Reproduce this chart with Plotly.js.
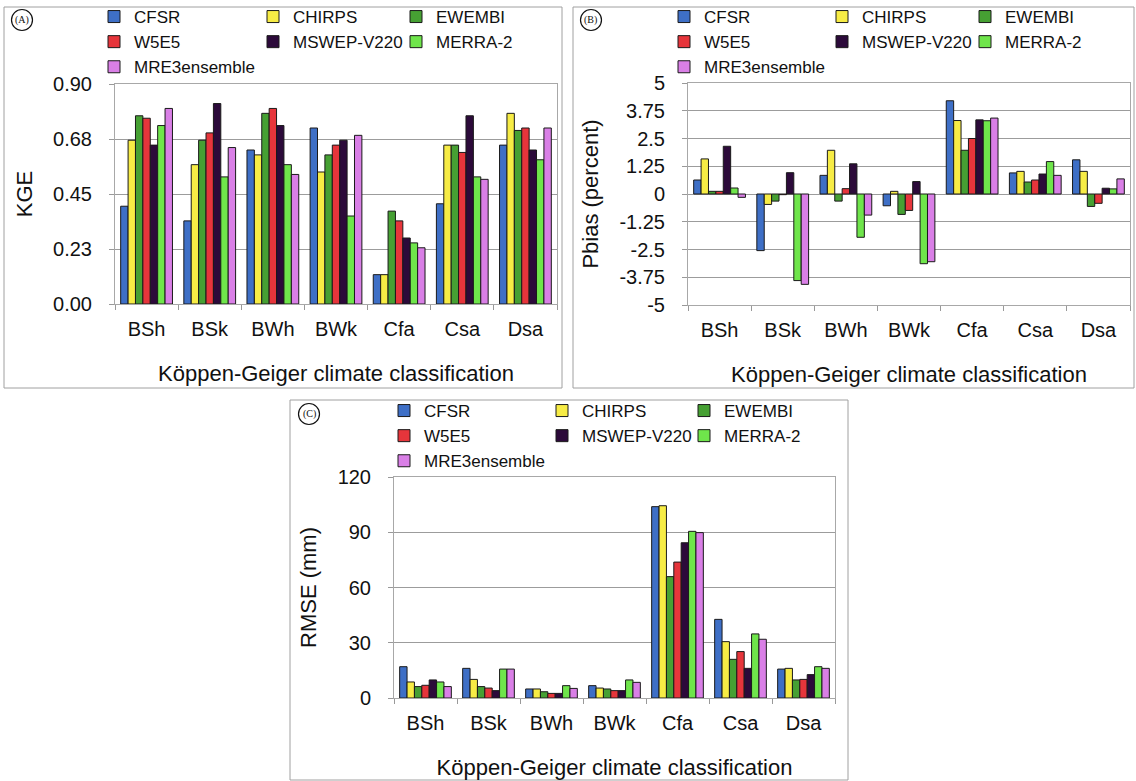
<!DOCTYPE html>
<html>
<head>
<meta charset="utf-8">
<script src="https://cdn.plot.ly/plotly-3.0.1.min.js"></script>
<style>
html,body{margin:0;padding:0;background:#fff;}
#chart{width:1136px;height:781px;}
</style>
</head>
<body>
<div id="chart"></div>
<script>
// ---------- DATA ----------
const categories = ['BSh', 'BSk', 'BWh', 'BWk', 'Cfa', 'Csa', 'Dsa'];
const products = ['CFSR', 'CHIRPS', 'EWEMBI', 'W5E5', 'MSWEP-V220', 'MERRA-2', 'MRE3ensemble'];

// rows follow `products`, columns follow `categories`
const kgeValues = [
  [0.40, 0.34, 0.63, 0.72, 0.12, 0.41, 0.65],
  [0.67, 0.57, 0.61, 0.54, 0.12, 0.65, 0.78],
  [0.77, 0.67, 0.78, 0.61, 0.38, 0.65, 0.71],
  [0.76, 0.70, 0.80, 0.65, 0.34, 0.62, 0.72],
  [0.65, 0.82, 0.73, 0.67, 0.27, 0.77, 0.63],
  [0.73, 0.52, 0.57, 0.36, 0.25, 0.52, 0.59],
  [0.80, 0.64, 0.53, 0.69, 0.23, 0.51, 0.72]
];
const pbiasValues = [
  [0.63, -2.55, 0.84, -0.53, 4.20, 0.95, 1.54],
  [1.58, -0.47, 1.97, 0.12, 3.31, 1.02, 1.02],
  [0.12, -0.32, -0.32, -0.92, 1.97, 0.54, -0.56],
  [0.12, -0.03, 0.24, -0.74, 2.50, 0.63, -0.42],
  [2.15, 0.96, 1.36, 0.56, 3.34, 0.90, 0.26],
  [0.27, -3.90, -1.95, -3.14, 3.30, 1.46, 0.23],
  [-0.15, -4.07, -0.95, -3.05, 3.42, 0.84, 0.68]
];
const rmseValues = [
  [17.0, 16.1, 4.9, 6.7, 103.9, 42.7, 15.7],
  [8.7, 10.1, 4.9, 5.4, 104.4, 30.6, 16.1],
  [6.2, 6.2, 3.4, 4.9, 65.9, 21.0, 9.8],
  [6.9, 5.4, 2.5, 4.0, 73.8, 25.2, 10.1],
  [9.8, 4.0, 2.5, 4.0, 84.3, 16.1, 12.7],
  [8.7, 15.7, 6.7, 9.8, 90.5, 34.8, 17.0],
  [6.2, 15.7, 5.2, 8.5, 89.8, 31.9, 16.1]
];

const kgeTickVals = [0, 0.225, 0.45, 0.675, 0.9];
const kgeTickText = ['0.00', '0.23', '0.45', '0.68', '0.90'];
const pbiasTickVals = [5, 3.75, 2.5, 1.25, 0, -1.25, -2.5, -3.75, -5];
const pbiasTickText = ['5', '3.75', '2.5', '1.25', '0', '-1.25', '-2.5', '-3.75', '-5'];
const rmseTickVals = [0, 30, 60, 90, 120];
const rmseTickText = ['0', '30', '60', '90', '120'];

const yTitles = ['KGE', 'Pbias (percent)', 'RMSE (mm)'];
const xTitle = 'Köppen-Geiger climate classification';
const panelLabels = ['(A)', '(B)', '(C)'];

// ---------- STYLE / LAYOUT ----------
const colors = ['#3e6fc6', '#f7ec45', '#46a033', '#e6353b', '#2c0a3a', '#6fe54b', '#d97fe6'];
const W = 1136, H = 781;
const px = x => x / W;
const py = y => 1 - y / H;
const FONT = 'Liberation Sans, Arial, Helvetica, sans-serif';

const panels = [
  {values: kgeValues, tv: kgeTickVals, tt: kgeTickText, range: [0, 0.9],
   box: [4, 7, 562, 388], plot: [115, 84, 557, 304], legX: [94, 253, 396], legTop: -1, circle: [22, 20]},
  {values: pbiasValues, tv: pbiasTickVals, tt: pbiasTickText, range: [-5, 5],
   box: [573, 7, 1134, 388], plot: [688, 83, 1130, 305], legX: [664, 822, 965], legTop: -1, circle: [591, 20]},
  {values: rmseValues, tv: rmseTickVals, tt: rmseTickText, range: [0, 120],
   box: [290, 400, 848, 780], plot: [394, 477, 835, 698], legX: [384, 542, 684], legTop: 393, circle: [309, 414]}
];

const traces = [];
const layout = {
  width: W, height: H,
  margin: {l: 0, r: 0, t: 0, b: 0, autoexpand: false},
  paper_bgcolor: '#ffffff', plot_bgcolor: '#ffffff',
  font: {family: FONT, color: '#111'},
  barmode: 'group', bargap: 0.18, bargroupgap: 0,
  showlegend: true,
  shapes: [], annotations: []
};

panels.forEach((p, pi) => {
  const sfx = pi === 0 ? '' : String(pi + 1);
  const xa = 'x' + sfx, ya = 'y' + sfx;
  products.forEach((name, i) => {
    const legIdx = pi * 3 + (i % 3) + 1;
    traces.push({
      type: 'bar', name: name, x: categories, y: p.values[i],
      xaxis: xa, yaxis: ya,
      legend: legIdx === 1 ? 'legend' : 'legend' + legIdx,
      marker: {color: colors[i], line: {color: '#1a1a1a', width: 1}},
      hoverinfo: 'x+y+name'
    });
  });
  for (let c = 0; c < 3; c++) {
    const legIdx = pi * 3 + c + 1;
    layout[legIdx === 1 ? 'legend' : 'legend' + legIdx] = {
      x: px(p.legX[c]), xanchor: 'left', y: py(p.legTop), yanchor: 'top',
      orientation: 'v', bgcolor: 'rgba(0,0,0,0)', borderwidth: 0,
      font: {family: FONT, size: 17, color: '#111'}, traceorder: 'normal'
    };
  }
  layout['xaxis' + sfx] = {
    domain: [px(p.plot[0]), px(p.plot[2])], anchor: ya,
    type: 'category', categoryorder: 'array', categoryarray: categories,
    tickson: 'boundaries', ticks: 'outside', ticklen: 5, tickcolor: '#999',
    showgrid: false, zeroline: false, showline: true, mirror: true,
    linecolor: '#a8a8a8', linewidth: 1,
    tickfont: {family: FONT, size: 20, color: '#111'}, ticklabelstandoff: 7,
    title: {text: xTitle, font: {family: FONT, size: 22, color: '#111'}, standoff: 26},
    fixedrange: true
  };
  layout['yaxis' + sfx] = {
    domain: [py(p.plot[3]), py(p.plot[1])], anchor: xa,
    range: p.range, tickmode: 'array', tickvals: p.tv, ticktext: p.tt,
    ticks: 'outside', ticklen: 5, tickcolor: '#999',
    showgrid: true, gridcolor: '#9c9c9c', gridwidth: 1.2, zeroline: false,
    showline: true, mirror: true, linecolor: '#a8a8a8', linewidth: 1,
    tickfont: {family: FONT, size: 20, color: '#111'}, ticklabelstandoff: 13,
    title: {text: yTitles[pi], font: {family: FONT, size: 22, color: '#111'}, standoff: 14},
    fixedrange: true
  };
  layout.shapes.push({
    type: 'rect', xref: 'paper', yref: 'paper',
    x0: px(p.box[0]), x1: px(p.box[2]), y0: py(p.box[3]), y1: py(p.box[1]),
    line: {color: '#a0a0a0', width: 1}, fillcolor: 'rgba(0,0,0,0)', layer: 'below'
  });
  const r = 10.5;
  layout.shapes.push({
    type: 'circle', xref: 'paper', yref: 'paper',
    x0: px(p.circle[0] - r), x1: px(p.circle[0] + r),
    y0: py(p.circle[1] + r), y1: py(p.circle[1] - r),
    line: {color: '#111', width: 1.2}
  });
  layout.annotations.push({
    xref: 'paper', yref: 'paper', x: px(p.circle[0]), y: py(p.circle[1]),
    xanchor: 'center', yanchor: 'middle', showarrow: false,
    text: panelLabels[pi], font: {family: 'Liberation Serif, Times New Roman, serif', size: 10, color: '#111'}
  });
});

Plotly.newPlot('chart', traces, layout, {displayModeBar: false, staticPlot: false});
</script>
</body>
</html>
